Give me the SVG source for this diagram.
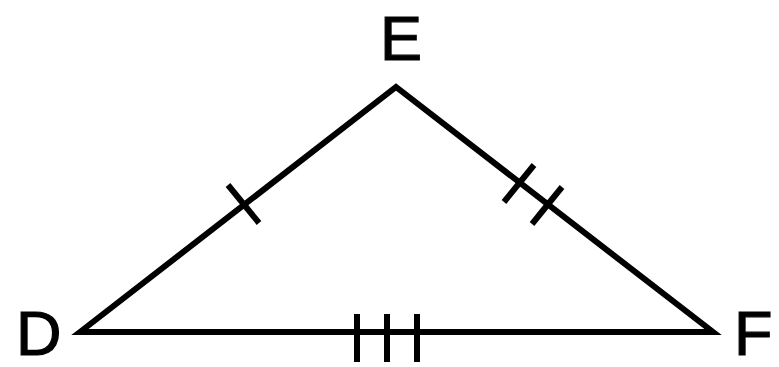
<svg xmlns="http://www.w3.org/2000/svg" width="779" height="367" viewBox="0 0 779 367">
<style>
.edge{stroke:#000;stroke-width:6;fill:none;stroke-linejoin:miter;stroke-linecap:butt}
.tick{stroke:#000;stroke-width:6;fill:none}
.lbl{font-family:"Liberation Sans",Arial,sans-serif;font-size:63px;fill:#000;stroke:#000;stroke-width:1.2}
</style>
<rect width="779" height="367" fill="#fff"/>
<g id="connectors">
<polygon class="edge" points="80,332 396,87 713,332"/>
<line class="tick" x1="228" y1="185" x2="259" y2="223"/>
<line class="tick" x1="504" y1="202" x2="534" y2="165"/>
<line class="tick" x1="532" y1="224" x2="562" y2="187"/>
<line class="tick" x1="357" y1="314" x2="357" y2="362"/>
<line class="tick" x1="387" y1="314" x2="387" y2="362"/>
<line class="tick" x1="417" y1="314" x2="417" y2="362"/>
</g>
<g id="D"><text class="lbl" x="16" y="355">D</text></g>
<g id="E"><text class="lbl" x="380" y="60">E</text></g>
<g id="F"><text class="lbl" x="734" y="355">F</text></g>
</svg>
